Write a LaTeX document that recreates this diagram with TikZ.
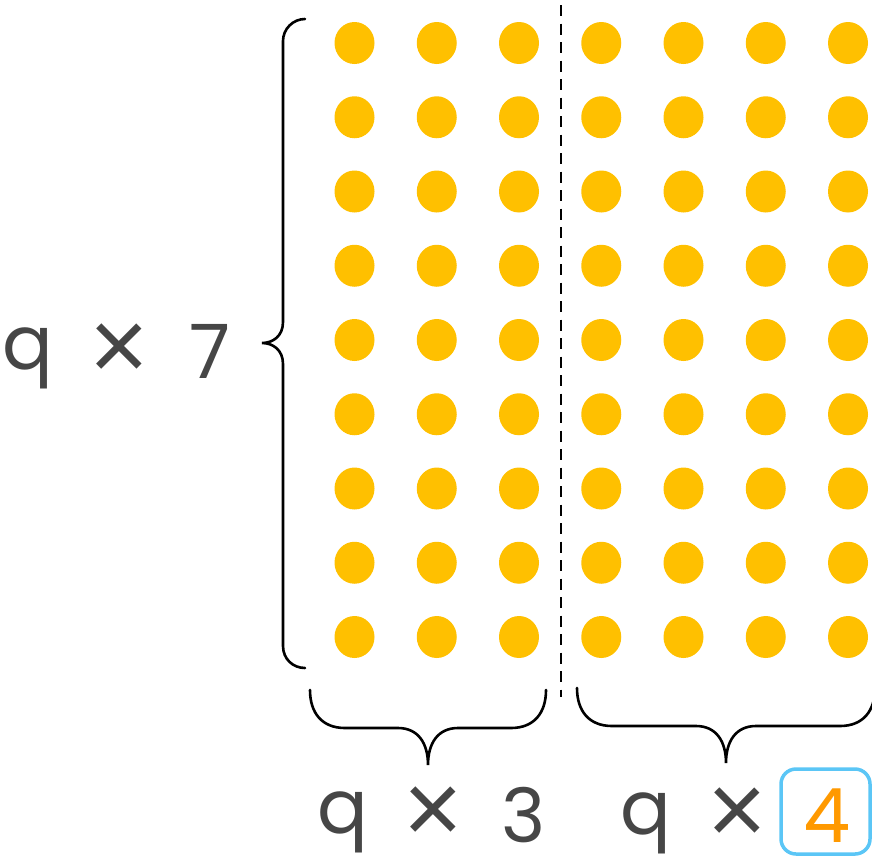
\documentclass[tikz,border=0pt]{standalone}
\usepackage{fontspec}
\setmainfont{Poppins}
\newfontfamily\fontfois{Liberation Sans}
\definecolor{jaune}{HTML}{FFC000}
\definecolor{gristexte}{HTML}{464646}
\definecolor{bleucadre}{HTML}{5BC6F6}
\definecolor{orange4}{HTML}{FF9900}
\tikzset{
  point/.style={fill=jaune},
  accolade/.style={line width=2.6pt, line cap=round, black},
  chiffre/.style={text=gristexte, font=\fontsize{75}{80}\selectfont, inner sep=0pt},
  fois/.style={chiffre, font=\fontfois\fontsize{102}{110}\selectfont},
}
\begin{document}
\begin{tikzpicture}[x=1pt, y=-1pt]
        \useasboundingbox (0,0) rectangle (872,857);

        % Grille de points (7 colonnes, 9 lignes)
        \foreach \i in {0,...,6} {
          \foreach \j in {0,...,8} {
            \fill[point] ({354.5+82.25*\i},{43+74.25*\j}) ellipse (20 and 21);
          }
        }

        % Séparation 3 | 4
        \draw[line width=2.6pt, dash pattern=on 11pt off 7.5pt] (561,5) -- (561,697);

        % Accolade à gauche (9 lignes)
        \draw[accolade] (305,19) .. controls (293,19) and (283,29) .. (283,41) -- (283,322)
          .. controls (283,336) and (273,343) .. (262,343)
          .. controls (273,343) and (283,350) .. (283,364) -- (283,646)
          .. controls (283,659) and (293,668) .. (305,668);

        % Accolades du bas
        \draw[accolade] (310,690) .. controls (310,713) and (322,728) .. (345,728) -- (398,728)
          .. controls (418,728) and (428,743) .. (428,765)
          .. controls (428,743) and (438,728) .. (458,728) -- (511,728)
          .. controls (534,728) and (546,713) .. (546,690);
        \draw[accolade] (577,688) .. controls (577,711) and (589,726) .. (612,726) -- (696,726)
          .. controls (716,726) and (726,741) .. (726,763)
          .. controls (726,741) and (736,726) .. (756,726) -- (840,726)
          .. controls (863,726) and (875,711) .. (875,688);

        % q x 7
        \node[chiffre] (q1) at (28,358) {q};
        \node[fois] (x1) at (119,352) {×};
        \node[chiffre] (sept) at (209.5,351) {7};

        % q x 3
        \node[chiffre] (q2) at (343,822) {q};
        \node[fois] (x2) at (433,815) {×};
        \node[chiffre] (trois) at (523.5,815) {3};

        % q x [4]
        \node[chiffre] (q3) at (646,823) {q};
        \node[fois] (x3) at (737,816) {×};
        \draw[bleucadre, line width=3.5pt, rounded corners=15pt] (781,769) rectangle (870,854);
        \node[chiffre, text=orange4] (quatre) at (827,816) {4};

    \end{tikzpicture}
\end{document}
